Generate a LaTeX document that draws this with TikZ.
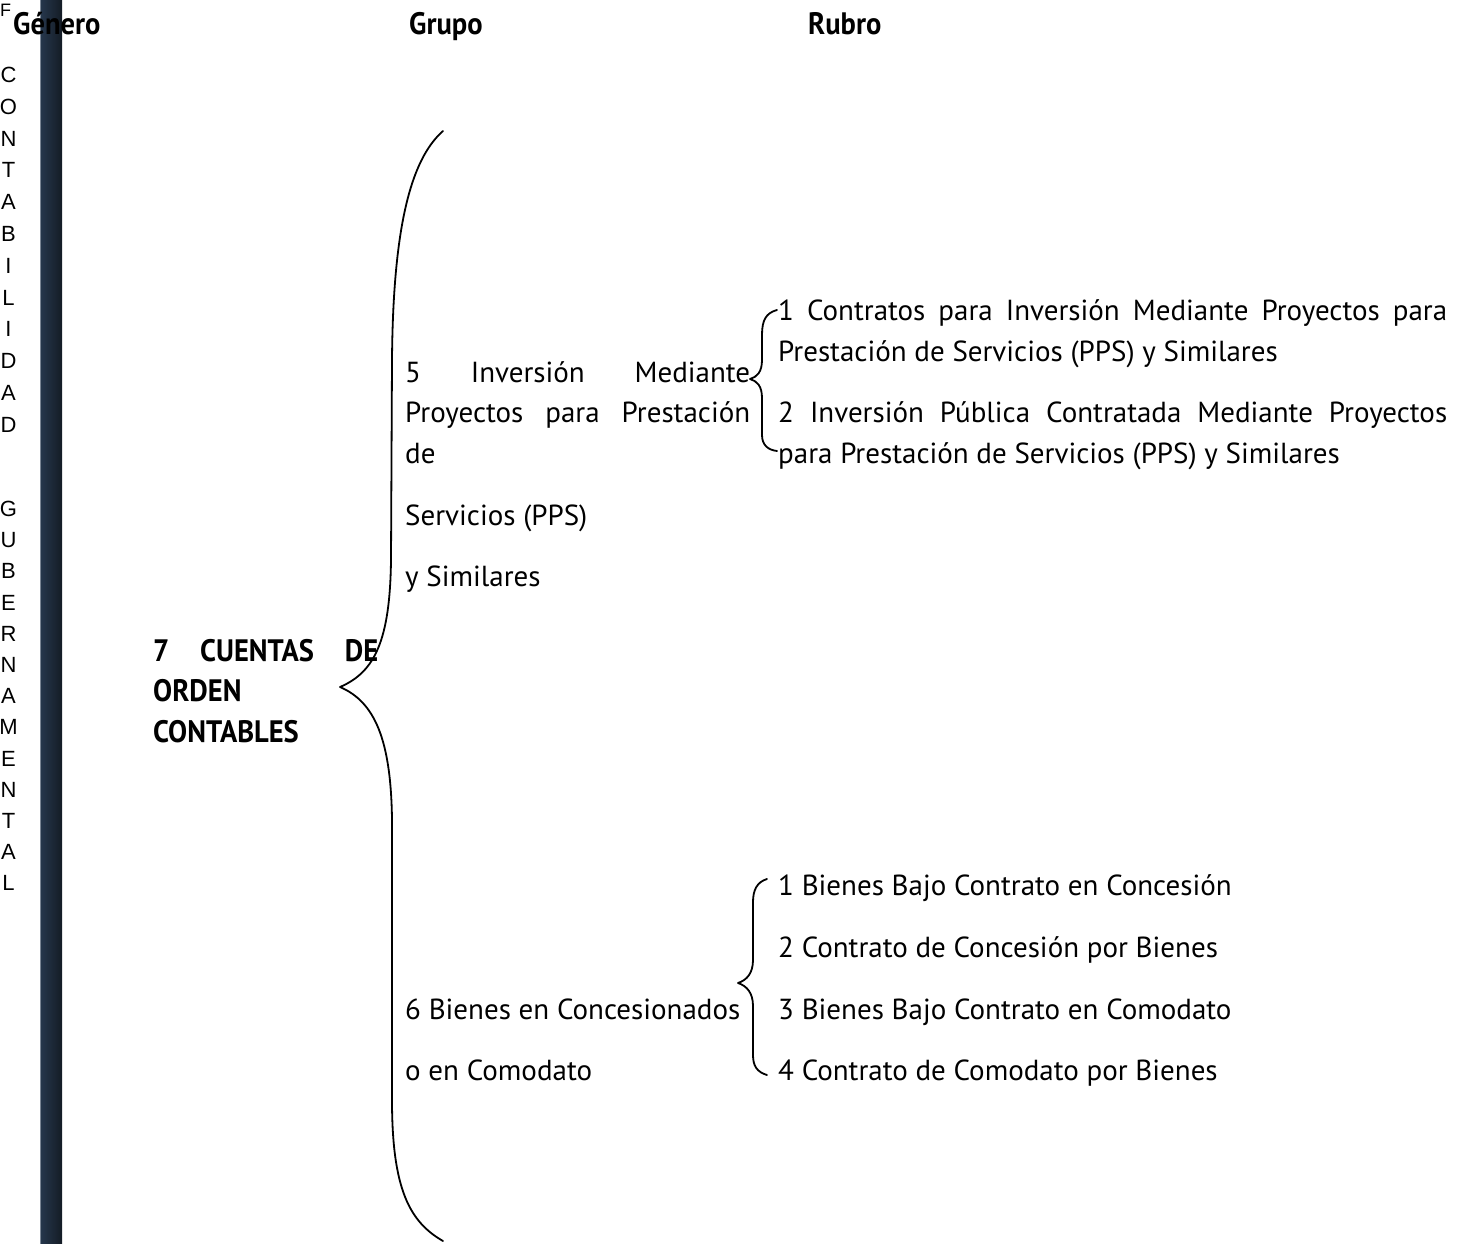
\documentclass[tikz,border=0pt]{standalone}
\usepackage{fontspec}
\setmainfont{PT Sans}
\newfontfamily\hdrfont{PT Sans}[FakeStretch=0.92]
\newfontfamily\vertfont{Liberation Sans}
\definecolor{barL}{HTML}{26374D}
\definecolor{barR}{HTML}{141C25}
\definecolor{barEdge}{HTML}{7A8594}
\begin{document}
\begin{tikzpicture}[x=1pt,y=-1pt,
  txt/.style={anchor=base west, inner sep=0pt, font=\fontsize{29}{35}\selectfont},
  hdr/.style={anchor=base west, inner sep=0pt, font=\hdrfont\bfseries\fontsize{31}{37}\selectfont},
  vl/.style={anchor=center, inner sep=0pt, font=\vertfont\fontsize{22}{26}\selectfont},
  brace/.style={line width=1.8pt, line cap=round, line join=round}]
\useasboundingbox (0,0) rectangle (1469,1244);

% dark vertical bar
\shade[left color=barL, right color=barR] (40,0) rectangle (62,1244);
\draw[barEdge, line width=0.8pt] (40.4,0) -- (40.4,1244);

% vertical letters
\node[vl, font=\vertfont\fontsize{18}{22}\selectfont] (vf) at (5.5,10) {F};
\foreach \l [count=\i from 0] in {C,O,N,T,A,B,I,L,I,D,A,D}
  \node[vl] (vc\i) at (8.5,75+31.8*\i) {\l};
\foreach \l [count=\i from 0] in {G,U,B,E,R,N,A,M,E,N,T,A,L}
  \node[vl] (vg\i) at (8.5,509+31.2*\i) {\l};

% headers
\node[hdr] (hgen) at (13,35) {Género};
\node[hdr] (hgru) at (409,35) {Grupo};
\node[hdr] (hrub) at (808,35) {Rubro};

% genero
\node[hdr] (g1) at (153,661) {\makebox[225pt][s]{7 CUENTAS DE}};
\node[hdr] (g2) at (153,701) {ORDEN};
\node[hdr] (g3) at (153,742) {CONTABLES};

% grupos
\node[txt] (a1) at (405,382) {\makebox[345pt][s]{5 Inversión Mediante}};
\node[txt] (a2) at (405,422) {\makebox[345pt][s]{Proyectos para Prestación}};
\node[txt] (a3) at (405,463) {de};
\node[txt] (a4) at (405,525) {Servicios (PPS)};
\node[txt] (a5) at (405,586) {y Similares};
\node[txt] (b1) at (405,1019) {6 Bienes en Concesionados};
\node[txt] (b2) at (405,1080) {o en Comodato};

% rubros
\node[txt] (r1a) at (778,320) {\makebox[669pt][s]{1 Contratos para Inversión Mediante Proyectos para}};
\node[txt] (r1b) at (778,361) {Prestación de Servicios (PPS) y Similares};
\node[txt] (r2a) at (778,422) {\makebox[669pt][s]{2 Inversión Pública Contratada Mediante Proyectos}};
\node[txt] (r2b) at (778,463) {para Prestación de Servicios (PPS) y Similares};
\node[txt] (s1) at (778,895) {1 Bienes Bajo Contrato en Concesión};
\node[txt] (s2) at (778,957) {2 Contrato de Concesión por Bienes};
\node[txt] (s3) at (778,1019) {3 Bienes Bajo Contrato en Comodato};
\node[txt] (s4) at (778,1080) {4 Contrato de Comodato por Bienes};

% brace coordinates
\coordinate (bigTop) at (443,131);
\coordinate (bigTip) at (340,687);
\coordinate (bigBot) at (443,1241);
\coordinate (p1Top) at (777,310);
\coordinate (p1Tip) at (750,379);
\coordinate (p1Bot) at (777,451);
\coordinate (p2Top) at (767,879);
\coordinate (p2Tip) at (738,983);
\coordinate (p2Bot) at (767,1075);

% big brace
\draw[brace] (bigTop) .. controls (410,160) and (393,230) .. (392,360)
  -- (391,560) .. controls (390,640) and (375,672) .. (bigTip)
  .. controls (375,702) and (391,740) .. (392,820)
  -- (392,1100) .. controls (392,1190) and (410,1222) .. (bigBot);

% brace PPS
\draw[brace] (p1Top) .. controls (766,313) and (762,320) .. (762,335)
  -- (762,360) .. controls (762,372) and (757,377) .. (p1Tip)
  .. controls (757,381) and (762,386) .. (762,398)
  -- (762,435) .. controls (762,445) and (768,450) .. (p1Bot);

% brace bienes
\draw[brace] (p2Top) .. controls (757,882) and (753,890) .. (753,902)
  -- (753,960) .. controls (753,973) and (747,980) .. (p2Tip)
  .. controls (747,986) and (753,993) .. (753,1006)
  -- (753,1055) .. controls (753,1066) and (757,1072) .. (p2Bot);
\end{tikzpicture}
\end{document}
